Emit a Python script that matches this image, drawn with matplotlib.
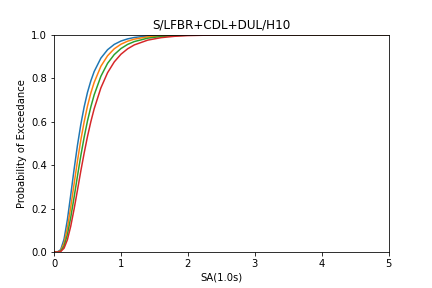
import matplotlib
matplotlib.use("Agg")
import matplotlib.pyplot as plt


# SA values (g) and exceedance probabilities
sa = [0.0, 0.05, 0.1, 0.15, 0.2, 0.25, 0.3, 0.35, 0.4, 0.45, 0.5, 0.55,
      0.6, 0.7, 0.8, 0.9, 1.0, 1.1, 1.2, 1.4, 1.6, 1.8, 2.0, 2.5, 5.0]

p_blue = [0.0, 0.0002, 0.0106, 0.0588, 0.1487, 0.2624, 0.380, 0.490, 0.586, 0.667, 0.734, 0.787,
          0.830, 0.8916, 0.9303, 0.9548, 0.9702, 0.9801, 0.9866, 0.9937, 0.9969, 0.9984, 0.9992, 0.9998, 1.0]

p_orange = [0.0, 0.0001, 0.0065, 0.0403, 0.1105, 0.2067, 0.3131, 0.418, 0.514, 0.598, 0.671, 0.731,
            0.780, 0.854, 0.9025, 0.9346, 0.9556, 0.9696, 0.9790, 0.9896, 0.9947, 0.9972, 0.9985, 0.9996, 1.0]

p_green = [0.0, 0.0, 0.0038, 0.0269, 0.0800, 0.1587, 0.2517, 0.3486, 0.4423, 0.527, 0.6026, 0.6674,
           0.7227, 0.8081, 0.8676, 0.9081, 0.9357, 0.9548, 0.9679, 0.9835, 0.9912, 0.9952, 0.9973, 0.9993, 1.0]

p_red = [0.0, 0.0, 0.0022, 0.0174, 0.0563, 0.1186, 0.1974, 0.284, 0.3718, 0.4542, 0.5311, 0.5991,
         0.6587, 0.7546, 0.8246, 0.8743, 0.9096, 0.9346, 0.9525, 0.9744, 0.9858, 0.9920, 0.9953, 0.9987, 1.0]


plt.figure(figsize=(6, 4), dpi=72)
plt.subplots_adjust(bottom=0.125)

for p in [p_blue, p_orange, p_green, p_red]:
    plt.plot(sa, p)

plt.xlim(0, 5)
plt.ylim(0, 1)

plt.title("S/LFBR+CDL+DUL/H10")
plt.xlabel("SA(1.0s)")
plt.ylabel("Probability of Exceedance")

plt.savefig("out.png")
